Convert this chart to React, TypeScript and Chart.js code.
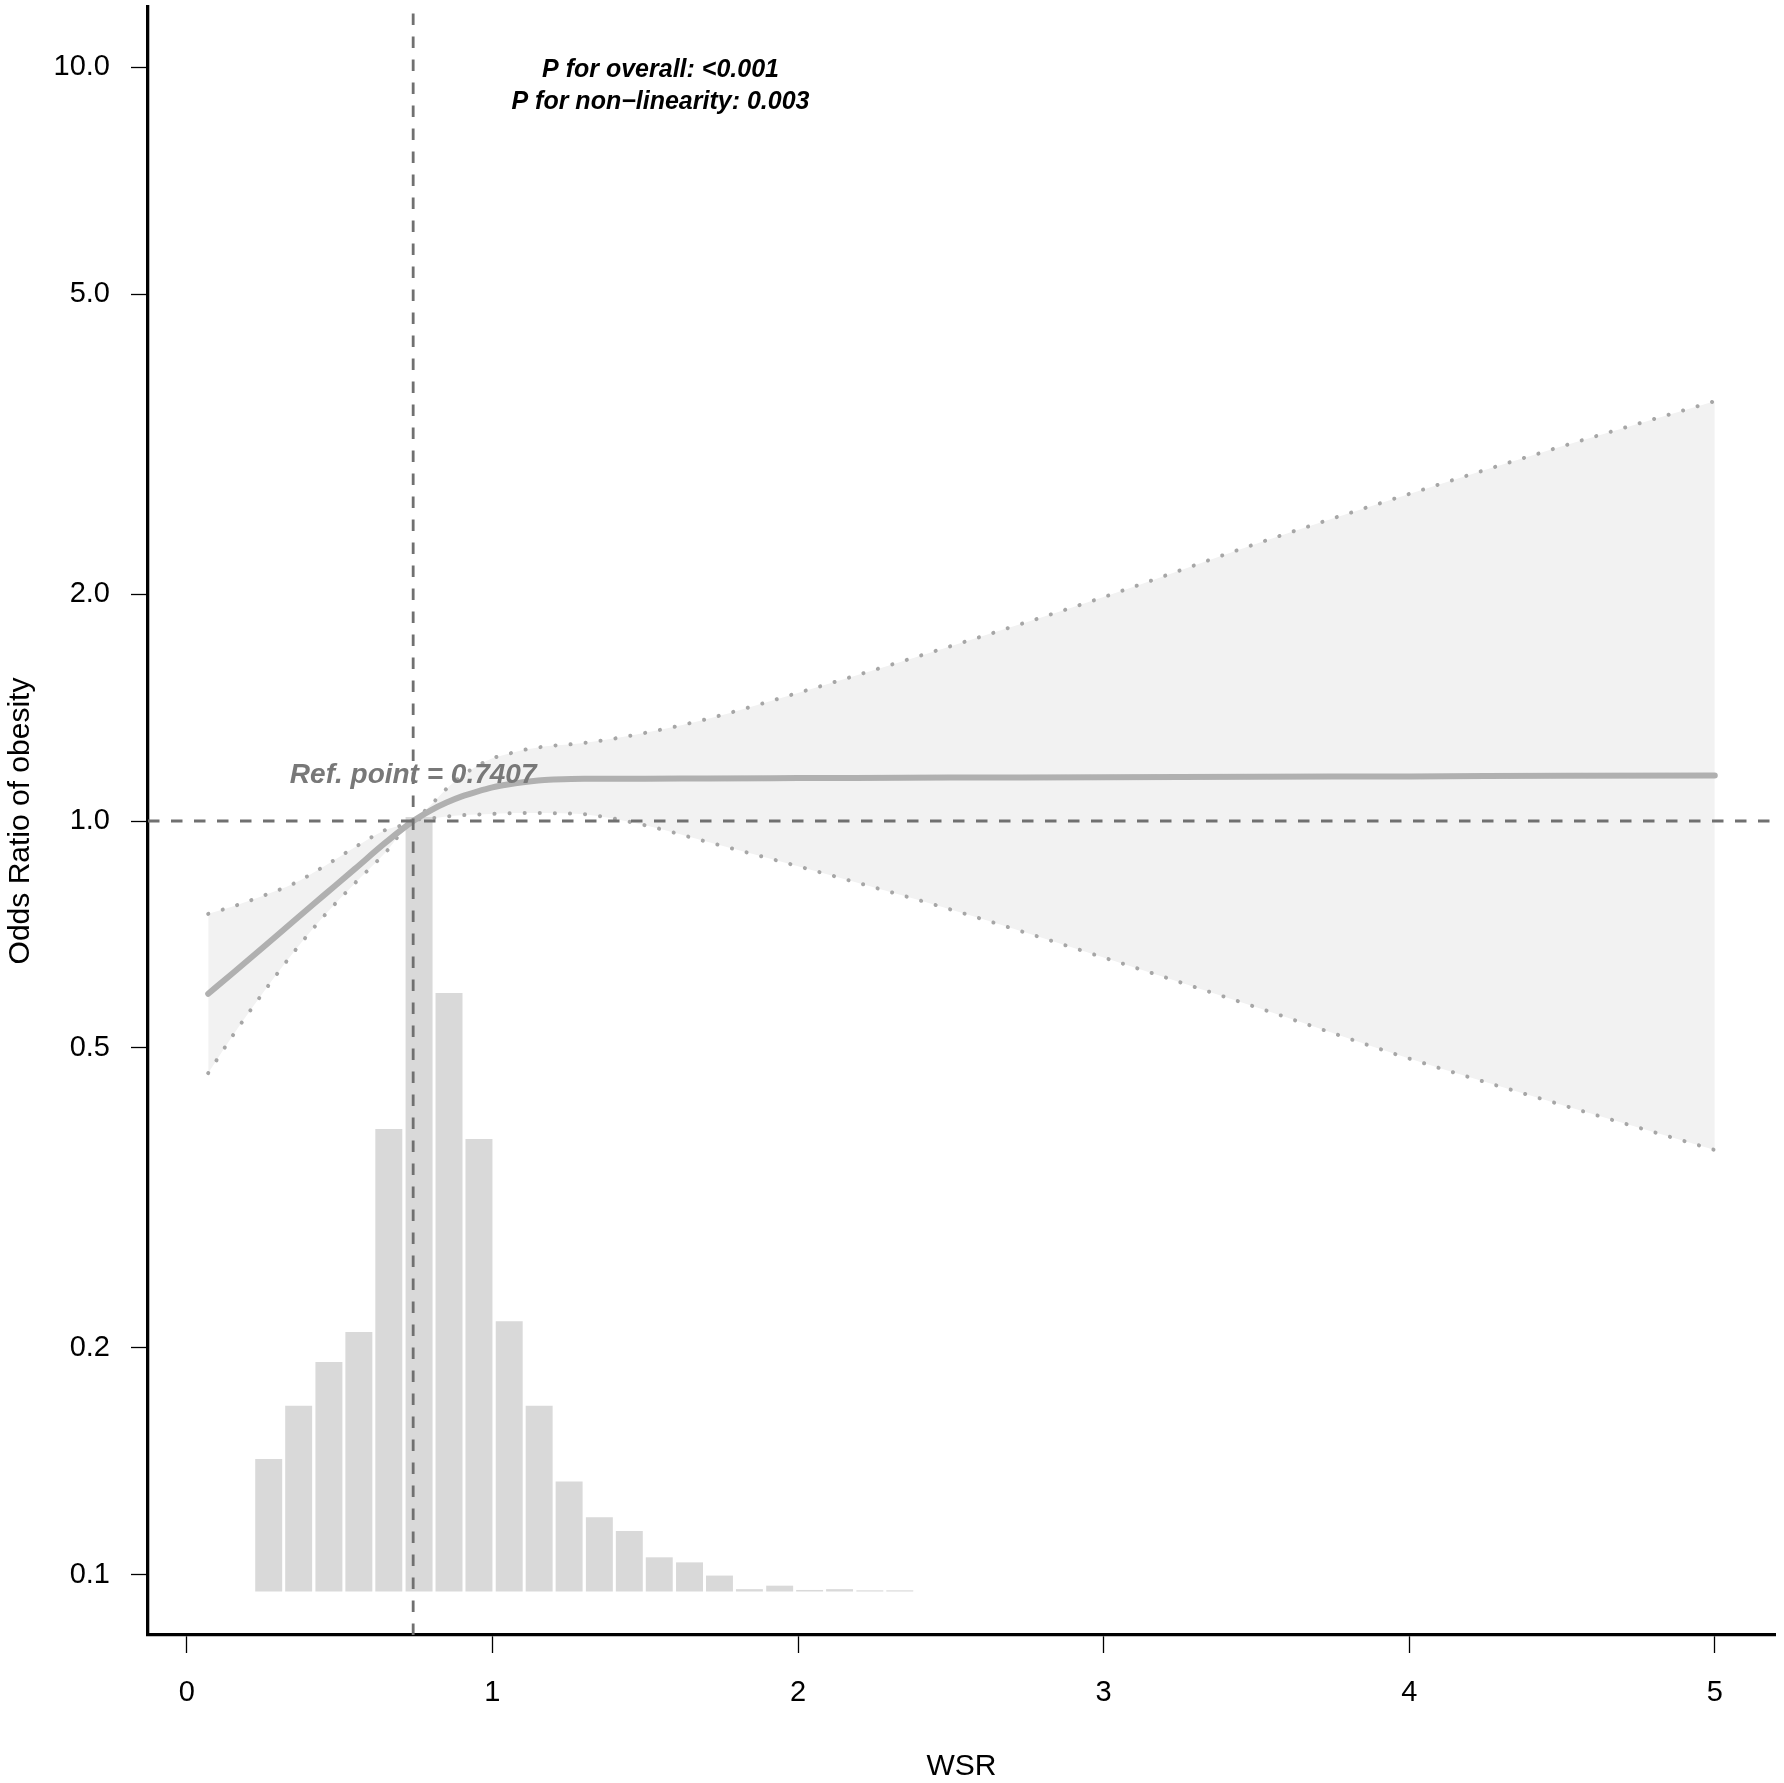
import React, { useEffect, useRef } from 'react';
import { Chart, registerables } from 'chart.js';

Chart.register(...registerables);

// spline fit: odds ratio of obesity over WSR (ref point 0.7407)
const wsr = [0.07, 0.15, 0.25, 0.35, 0.45, 0.55, 0.65, 0.7407, 0.8, 0.85, 0.9, 0.95, 1.0, 1.05, 1.1, 1.15, 1.2, 1.3, 1.5, 1.7, 2.0, 2.5, 3.0, 3.5, 4.0, 4.5, 5.0];
const oddsRatio = [0.590, 0.628, 0.680, 0.737, 0.798, 0.864, 0.936, 1.0, 1.034, 1.058, 1.078, 1.094, 1.108, 1.118, 1.126, 1.132, 1.135, 1.138, 1.138, 1.139, 1.140, 1.142, 1.143, 1.145, 1.146, 1.148, 1.149];
const upperCI = [0.753, 0.770, 0.796, 0.826, 0.871, 0.923, 0.973, 1.0, 1.052, 1.104, 1.148, 1.183, 1.211, 1.227, 1.242, 1.252, 1.259, 1.269, 1.309, 1.365, 1.479, 1.706, 1.982, 2.333, 2.716, 3.141, 3.606];
const lowerCI = [0.463, 0.519, 0.592, 0.670, 0.749, 0.827, 0.908, 1.0, 1.008, 1.014, 1.018, 1.020, 1.022, 1.024, 1.025, 1.025, 1.024, 1.021, 0.987, 0.939, 0.871, 0.763, 0.659, 0.566, 0.484, 0.420, 0.366];

// WSR distribution (percent of participants per bin)
const binCenters = [0.268, 0.366, 0.465, 0.563, 0.661, 0.760, 0.858, 0.956, 1.055, 1.153, 1.251, 1.350, 1.448, 1.546, 1.645, 1.743, 1.841, 1.940, 2.038, 2.136, 2.235, 2.333];
const binPercent = [3.41, 4.78, 5.91, 6.68, 11.91, 19.94, 15.41, 11.65, 6.96, 4.78, 2.83, 1.91, 1.56, 0.88, 0.75, 0.41, 0.06, 0.15, 0.04, 0.06, 0.03, 0.03];

const xTicks = [0, 1, 2, 3, 4, 5];
const yTicks = [0.1, 0.2, 0.5, 1, 2, 5, 10];
const yTickLabels = ['0.1', '0.2', '0.5', '1.0', '2.0', '5.0', '10.0'];

const refPoint = 0.7407;
const refOR = 1;
const pOverall = 'P for overall: <0.001';
const pNonLinear = 'P for non\u2212linearity: 0.003';

// axis limits (R style 4% extension)
const X_MIN = -0.127;
const X_MAX = 5.197;
const Y_MIN = 0.08318;
const Y_MAX = 12.023;

const FONT = "'Liberation Sans', Arial, Helvetica, sans-serif";

const textPlugin = {
  id: 'rcsText',
  afterDatasetsDraw(chart: any) {
    const { ctx } = chart;
    const x = chart.scales.x;
    const y = chart.scales.y;
    ctx.save();
    ctx.textAlign = 'center';
    ctx.textBaseline = 'middle';
    ctx.fillStyle = '#000';
    ctx.font = `italic bold 25px ${FONT}`;
    ctx.fillText(pOverall, x.getPixelForValue(1.55), y.getPixelForValue(9.9));
    ctx.fillText(pNonLinear, x.getPixelForValue(1.55), y.getPixelForValue(8.98));
    ctx.fillStyle = '#787878';
    ctx.font = `italic bold 28px ${FONT}`;
    ctx.fillText(`Ref. point = ${refPoint}`, x.getPixelForValue(refPoint), y.getPixelForValue(1.15));
    ctx.restore();
  },
};

const App: React.FC = () => {
  const canvasRef = useRef<HTMLCanvasElement>(null);

  useEffect(() => {
    if (!canvasRef.current) return;

    const curve = (vals: number[]) => wsr.map((x, i) => ({ x, y: vals[i] }));

    const chart = new Chart(canvasRef.current, {
      type: 'line',
      data: {
        datasets: [
          {
            type: 'line',
            label: 'ref-h',
            data: [{ x: X_MIN, y: refOR }, { x: X_MAX, y: refOR }],
            borderColor: '#707070',
            borderWidth: 2.8,
            borderDash: [11.5, 11.5],
            pointRadius: 0,
            order: 0,
          },
          {
            type: 'line',
            label: 'ref-v',
            data: [{ x: refPoint, y: Y_MIN }, { x: refPoint, y: Y_MAX }],
            borderColor: '#707070',
            borderWidth: 2.8,
            borderDash: [11.5, 11.5],
            pointRadius: 0,
            order: 0,
          },
          {
            type: 'line',
            label: 'OR',
            data: curve(oddsRatio),
            borderColor: '#B0B0B0',
            borderWidth: 6,
            borderCapStyle: 'round',
            cubicInterpolationMode: 'monotone',
            pointRadius: 0,
            order: 1,
          },
          {
            type: 'line',
            label: 'upper',
            data: curve(upperCI),
            borderColor: '#A6A6A6',
            borderWidth: 4,
            borderDash: [0.1, 15],
            borderCapStyle: 'round',
            cubicInterpolationMode: 'monotone',
            pointRadius: 0,
            fill: '+1',
            backgroundColor: '#F2F2F2',
            order: 2,
          },
          {
            type: 'line',
            label: 'lower',
            data: curve(lowerCI),
            borderColor: '#A6A6A6',
            borderWidth: 4,
            borderDash: [0.1, 15],
            borderCapStyle: 'round',
            cubicInterpolationMode: 'monotone',
            pointRadius: 0,
            fill: false,
            order: 2,
          },
          {
            type: 'bar',
            label: 'hist',
            data: binCenters.map((x, i) => ({ x, y: binPercent[i] })),
            yAxisID: 'y2',
            backgroundColor: '#D9D9D9',
            borderWidth: 0,
            barPercentage: 0.9,
            categoryPercentage: 1,
            order: 3,
          },
        ] as any,
      },
      options: {
        responsive: false,
        animation: false,
        events: [],
        layout: { padding: { top: 7, right: 9, bottom: 0, left: 0 } },
        plugins: {
          legend: { display: false },
          tooltip: { enabled: false },
          filler: { drawTime: 'beforeDatasetsDraw' },
        },
        scales: {
          x: {
            type: 'linear',
            position: 'bottom',
            min: X_MIN,
            max: X_MAX,
            offset: false,
            afterFit: (scale: any) => {
              scale.height = 148;
              scale.paddingLeft = 0;
              scale.paddingRight = 0;
              scale.paddingTop = 0;
              scale.paddingBottom = 0;
            },
            afterBuildTicks: (scale: any) => { scale.ticks = xTicks.map((value) => ({ value })); },
            grid: {
              display: true,
              offset: false,
              drawOnChartArea: false,
              drawTicks: true,
              tickLength: 18,
              tickWidth: 1.3,
              tickColor: '#000',
            },
            border: { display: true, color: '#000', width: 3.3 },
            ticks: {
              autoSkip: false,
              maxRotation: 0,
              padding: 23,
              color: '#000',
              font: { family: FONT, size: 29 },
              callback: (value: any) => String(value),
            },
            title: {
              display: true,
              text: 'WSR',
              color: '#000',
              font: { family: FONT, size: 30 },
              padding: { top: 0, bottom: -2 },
            },
          },
          y: {
            type: 'logarithmic',
            position: 'left',
            min: Y_MIN,
            max: Y_MAX,
            afterFit: (scale: any) => {
              scale.width = 148;
              scale.paddingLeft = 0;
              scale.paddingRight = 0;
              scale.paddingTop = 0;
              scale.paddingBottom = 0;
            },
            afterBuildTicks: (scale: any) => { scale.ticks = yTicks.map((value) => ({ value })); },
            grid: {
              display: true,
              offset: false,
              drawOnChartArea: false,
              drawTicks: true,
              tickLength: 17,
              tickWidth: 1.3,
              tickColor: '#000',
            },
            border: { display: true, color: '#000', width: 3.3 },
            ticks: {
              autoSkip: false,
              padding: 21,
              color: '#000',
              font: { family: FONT, size: 29 },
              callback: (value: any) => yTickLabels[yTicks.indexOf(Number(value))],
            },
            title: {
              display: true,
              text: 'Odds Ratio of obesity',
              color: '#000',
              font: { family: FONT, size: 30 },
              padding: { top: 2.5, bottom: 0 },
            },
          },
          y2: {
            type: 'linear',
            display: false,
            min: -1.12,
            max: 40.8,
          },
        },
      } as any,
      plugins: [textPlugin],
    });

    return () => {
      chart.destroy();
    };
  }, []);

  return (
    <div style={{ position: 'absolute', left: 0, top: 0, width: 1784, height: 1783, background: '#fff' }}>
      <canvas
        ref={canvasRef}
        width={1784}
        height={1783}
        style={{ display: 'block', width: 1784, height: 1783 }}
      />
    </div>
  );
};

export default App;
